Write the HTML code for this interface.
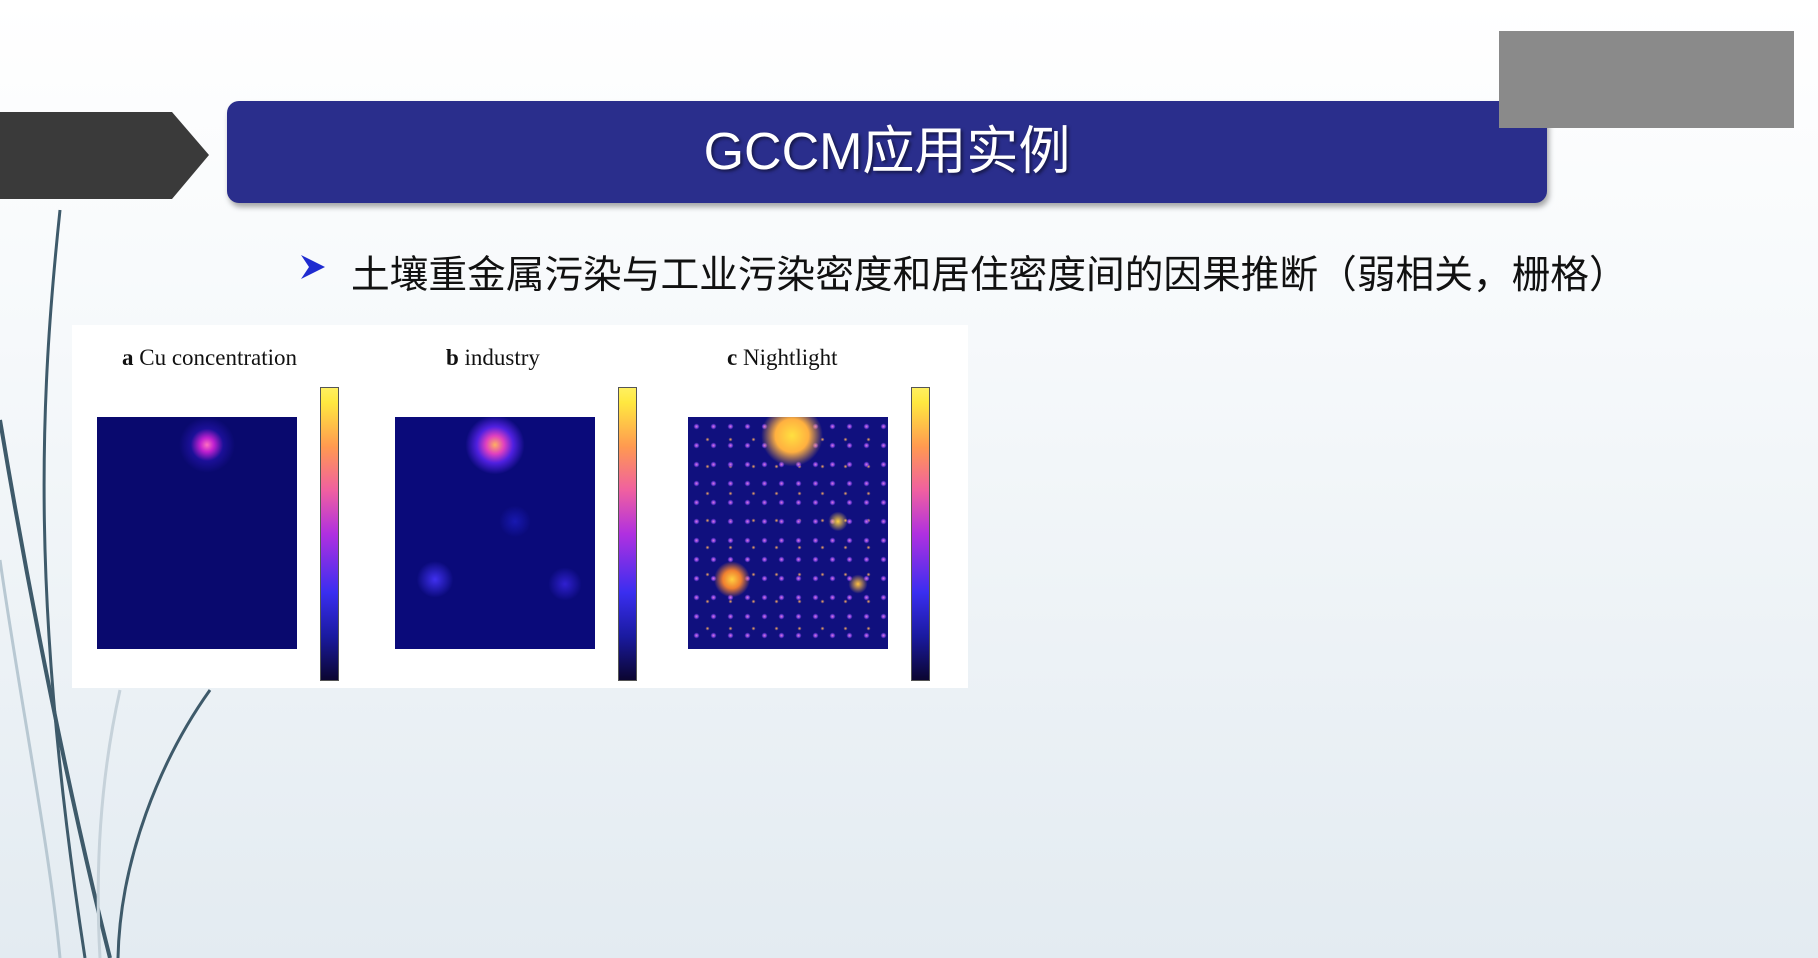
<!DOCTYPE html>
<html><head><meta charset="utf-8"><style>
html,body{margin:0;padding:0}
body{width:1818px;height:958px;position:relative;overflow:hidden;background:linear-gradient(180deg,#ffffff 0%,#f6f9fb 35%,#e3ebf1 100%);font-family:"Liberation Sans","Noto Sans CJK SC",sans-serif}
.abs{position:absolute}
.banner{left:227px;top:101px;width:1320px;height:102px;background:#2a2e8c;border-radius:12px;box-shadow:2px 4px 6px rgba(0,0,0,.35)}
.title{left:227px;top:101px;width:1320px;height:102px;line-height:102px;text-align:center;color:#fff;font-size:52px;text-shadow:2px 2px 3px rgba(0,0,0,.5)}
.gray{left:1499px;top:31px;width:295px;height:97px;background:#8a8a8a}
.bullet{left:351px;top:244px;font-size:38.7px;color:#111;white-space:nowrap}
.panel{left:72px;top:325px;width:896px;height:363px;background:#fff}
.map{width:200px;height:232px;top:417px;background:#07076a}
.cb{width:17px;height:292px;top:387px;background:linear-gradient(0deg,#0b0530 0%,#1a1aa0 15%,#3a2ef0 30%,#b030e0 50%,#f060a0 65%,#ff9a50 80%,#ffe840 95%,#fff060 100%);border:1px solid #555}
.lab{top:345px;font-family:"Liberation Serif",serif;font-size:23px;color:#111}
</style></head><body>
<svg class="abs" style="left:0;top:0" width="260" height="958">
<path d="M0 112 H172 L209 155 L172 199 H0 Z" fill="#3a3a3a"/>
<path d="M60 210 C40 400 30 600 85 958" stroke="#3e5a6a" stroke-width="3" fill="none"/>
<path d="M0 420 C30 600 70 800 110 958" stroke="#3e5a6a" stroke-width="4" fill="none"/>
<path d="M210 690 C160 760 120 860 118 958" stroke="#3e5a6a" stroke-width="3" fill="none"/>
<path d="M0 560 C20 700 50 850 60 958" stroke="#b8c8d2" stroke-width="3" fill="none"/>
<path d="M120 690 C100 780 95 870 100 958" stroke="#c6d2da" stroke-width="3" fill="none"/>
</svg>
<div class="abs banner"></div>
<div class="abs title">GCCM应用实例</div>
<div class="abs gray"></div>
<svg class="abs" style="left:299px;top:252px" width="28" height="30"><path d="M2 3 L26 15 L2 27 L10 15 Z" fill="#1f2bd0"/></svg>
<div class="abs bullet">土壤重金属污染与工业污染密度和居住密度间的因果推断（弱相关，栅格）</div>
<div class="abs panel"></div>
<div class="abs lab" style="left:122px"><b>a</b> Cu concentration</div>
<div class="abs lab" style="left:446px"><b>b</b> industry</div>
<div class="abs lab" style="left:727px"><b>c</b> Nightlight</div>
<div class="abs map" style="left:97px;background:radial-gradient(circle at 55% 12%,#ff70c0 0,#c020d0 3%,rgba(40,20,180,.6) 7%,transparent 12%),#09096e"></div>
<div class="abs map" style="left:395px;background:radial-gradient(circle at 50% 12%,#ffb060 0,#e040c0 4%,#5020e0 8%,transparent 13%),radial-gradient(circle at 20% 70%,#4030f0 0,transparent 8%),radial-gradient(circle at 85% 72%,#3020d0 0,transparent 7%),radial-gradient(circle at 60% 45%,#1818b0 0,transparent 9%),#0a0a7a"></div>
<div class="abs map" style="left:688px;background:radial-gradient(circle at 52% 8%,#ffe040 0,#ffb040 7%,transparent 13%),radial-gradient(circle at 22% 70%,#ffd040 0,#f08030 4%,transparent 8%),radial-gradient(circle at 75% 45%,#ffd040 0,transparent 5%),radial-gradient(circle at 85% 72%,#ffc040 0,transparent 4%),radial-gradient(circle,#e080d0 0,#8040e0 1.5px,transparent 3px) 0 0/17px 19px,radial-gradient(circle,#ffb060 0,transparent 2px) 8px 9px/23px 27px,#10107e"></div>
<div class="abs cb" style="left:320px"></div>
<div class="abs cb" style="left:618px"></div>
<div class="abs cb" style="left:911px"></div>
</body></html>
